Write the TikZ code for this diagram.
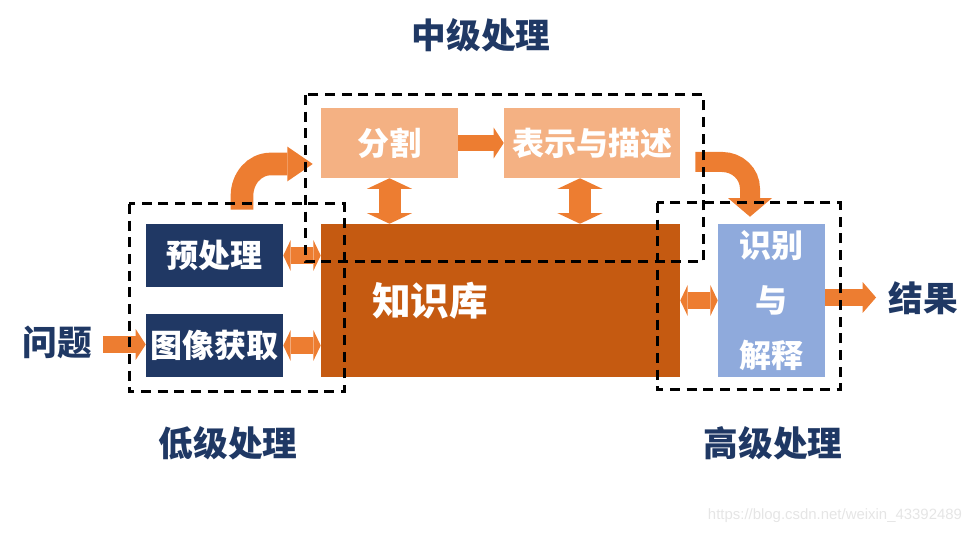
\documentclass[tikz,border=0pt]{standalone}
\usepackage{fontspec}
\setmainfont{Liberation Sans}
\newfontfamily\cjk{Noto Sans CJK SC}
\usetikzlibrary{arrows.meta,calc}
\definecolor{navy}{HTML}{203864}
\definecolor{ttlc}{HTML}{1F3864}
\definecolor{kbc}{HTML}{C55A11}
\definecolor{lor}{HTML}{F4B183}
\definecolor{lbl}{HTML}{8FAADC}
\definecolor{aor}{HTML}{ED7D31}
\begin{document}
\begin{tikzpicture}[x=0.75pt,y=-0.75pt,
  box/.style={draw=none, inner sep=0pt, text=white, font=\cjk\bfseries\fontsize{24}{28}\selectfont},
  ttl/.style={text=ttlc, inner sep=0pt, font=\cjk\bfseries\fontsize{26}{30}\selectfont},
  grp/.style={draw=black, line width=2.25pt, dash pattern=on 7.5pt off 5pt},
  fatone/.style={draw=aor, line width=12.5pt, arrows={-Triangle[width=23pt,length=7.5pt,line width=0pt]}},
  fattwo/.style={draw=aor, line width=12.75pt, arrows={Triangle[width=23pt,length=5.5pt,line width=0pt]-Triangle[width=23pt,length=5.5pt,line width=0pt]}},
  fatv/.style={draw=aor, line width=16.5pt, arrows={Triangle[width=34pt,length=8pt,line width=0pt]-Triangle[width=34pt,length=8pt,line width=0pt]}},
  curvy/.style={draw=aor, line width=16pt}
]
\useasboundingbox (0,0) rectangle (979,534);

% boxes
\node[box, fill=lor, minimum width=102.75pt, minimum height=52.5pt] (seg) at (389.5,143) {分割};
\node[box, fill=lor, minimum width=132pt, minimum height=52.5pt] (rep) at (592,143) {表示与描述};
\node[box, fill=kbc, minimum width=269.25pt, minimum height=114.75pt] (kb) at (500.5,300.5) {};
\node[box, font=\cjk\bfseries\fontsize{29}{32}\selectfont] (kbl) at (430,301) {知识库};
\node[box, fill=navy, minimum width=102.75pt, minimum height=47.25pt] (pre) at (214.5,255.5) {预处理};
\node[box, fill=navy, minimum width=102.75pt, minimum height=47.25pt] (acq) at (214.5,345.5) {图像获取};
\node[box, fill=lbl, minimum width=80.25pt, minimum height=114.75pt, align=center,
      font=\cjk\bfseries\fontsize{24}{41}\selectfont] (rec) at (771.5,300.5) {识别\\与\\解释};

% titles
\node[ttl] (tmid) at (481,35) {中级处理};
\node[ttl] (tlow) at (228,443) {低级处理};
\node[ttl] (thigh) at (773,443) {高级处理};
\node[ttl] (q) at (57,342) {问题};
\node[ttl] (res) at (923,298) {结果};

% arrows
\draw[fatone] (seg.east) -- (rep.west);
\draw[fatone] ($(q.east |- acq.west)+(11,-1)$) -- ($(acq.west)+(0,-1)$);
\draw[fatone, arrows={-Triangle[width=23pt,length=10pt,line width=0pt]}] ($(rec.east)+(0,-3)$) -- ($(res.west |- rec.east)+(-12,-3)$);
\draw[fattwo] (pre.east) -- (kb.west |- pre.east);
\draw[fattwo] (acq.east) -- (kb.west |- acq.east);
\draw[fattwo] (kb.east) -- (rec.west);
\draw[fatv] (seg.south) -- (seg.south |- kb.north);
\coordinate (rb) at ($(rep.south)+(-12,0)$);
\draw[fatv] (rb) -- (rb |- kb.north);

% curved arrows
\coordinate (c1s) at ($(pre.north)+(27.5,-14)$);
\coordinate (c1e) at ($(seg.west)+(-8,21)$);
\draw[curvy, line width=17pt, arrows={-Triangle[width=26pt,length=19pt,line width=0pt]}]
  (c1s) -- ++(0,-14) to[out=90,in=180] ($(c1e)+(-42,0)$) -- (c1e);
\coordinate (c2s) at ($(rep.east)+(15,19)$);
\coordinate (c2e) at ($(rec.north)+(-21.5,-7)$);
\draw[curvy, line width=15pt, arrows={-Triangle[width=33pt,length=14pt,line width=0pt]}]
  (c2s) -- ($(c2s)+(27,0)$) to[out=0,in=90] ($(c2e)+(0,-28)$) -- (c2e);

% dashed groups
\draw[grp] (305,95) rectangle (703,262);
\draw[grp] (129,204) rectangle (344,392);
\draw[grp] (657,203) rectangle (840,390);

% watermark
\node[text=black!10, font=\fontsize{11.2}{13}\selectfont, inner sep=0pt] (wm) at (835,516) {https://blog.csdn.net/weixin\_43392489};
\end{tikzpicture}
\end{document}
